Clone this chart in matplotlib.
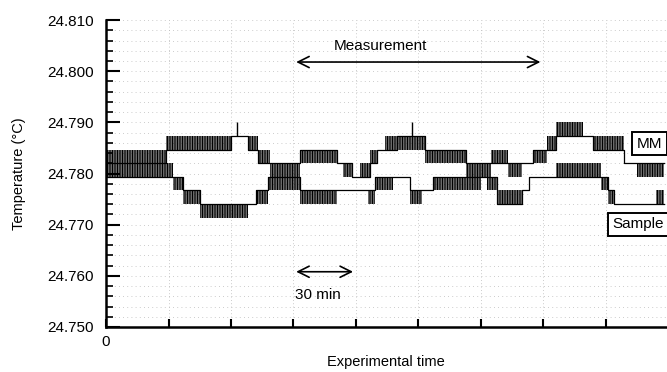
import matplotlib
matplotlib.use("Agg")
import matplotlib.pyplot as plt
from matplotlib.ticker import MultipleLocator, FormatStrFormatter

plt.rcParams['font.family'] = ['Liberation Sans', 'DejaVu Sans']
plt.rcParams['hatch.linewidth'] = 0.9

# quantised temperature levels (deg C)
L0, L1, L2, L3, L4, L5, L6, L7 = 24.7713, 24.7740, 24.7767, 24.7793, 24.7820, 24.7846, 24.7873, 24.7900

# MM trace: segment start times (min), base level, flicker level
mm_t = [0, 29, 60, 68, 73, 79, 93, 111, 114, 118, 122, 127, 130, 134, 140, 153,
        173, 185, 193, 200, 205, 212, 216, 229, 234, 249, 255, 268]
mm_base = [L4, L5, L6, L5, L4, L4, L5, L4, L4, L3, L3, L4, L5, L5, L6, L5,
           L4, L4, L4, L4, L5, L5, L6, L6, L5, L4, L4]
mm_alt = [L5, L6, L6, L6, L5, L3, L4, L4, L3, L3, L4, L5, L5, L6, L5, L4,
          L3, L5, L3, L4, L4, L6, L7, L6, L6, L4, L3]
mm_spike_t = [63, 147]

# Sample trace
s_t = [0, 32, 37, 45, 68, 72, 78, 93, 111, 126, 129, 138, 146, 152, 157, 180,
       183, 188, 200, 203, 216, 238, 241, 244, 264, 268]
s_base = [L3, L3, L2, L1, L1, L2, L3, L2, L2, L2, L3, L3, L2, L2, L3, L3,
          L3, L1, L2, L3, L3, L3, L2, L1, L1]
s_alt = [L4, L2, L1, L0, L1, L1, L2, L1, L2, L1, L2, L3, L1, L2, L2, L3,
         L2, L2, L2, L3, L4, L2, L1, L1, L2]

xticks = [0, 30, 60, 90, 120, 150, 180, 210, 240]
xtick_labels = ['0', '', '', '', '', '', '', '', '']

fig = plt.figure(figsize=(6.67, 3.72), dpi=100)
ax = fig.add_axes([0.159, 0.121, 0.8395, 0.825])

def draw_trace(t, base, alt):
    ax.step(t, base + [base[-1]], where='post', color='black', lw=0.9, zorder=3)
    for i in range(len(base)):
        if alt[i] != base[i]:
            lo, hi = min(base[i], alt[i]), max(base[i], alt[i])
            ax.fill_between([t[i], t[i + 1]], lo, hi, facecolor='none',
                            edgecolor='black', hatch='||||||||||', linewidth=0, zorder=3)

draw_trace(mm_t, mm_base, mm_alt)
draw_trace(s_t, s_base, s_alt)
ax.vlines(mm_spike_t, L6, L7, color='black', lw=1.0, zorder=3)

ax.set_xlim(0, 269)
ax.set_ylim(24.750, 24.810)
ax.yaxis.set_major_locator(MultipleLocator(0.010))
ax.yaxis.set_minor_locator(MultipleLocator(0.002))
ax.yaxis.set_major_formatter(FormatStrFormatter('%.3f'))
ax.set_xticks(xticks)
ax.set_xticklabels(xtick_labels)

ax.tick_params(axis='both', which='major', direction='in', length=10, width=1.5,
               labelsize=11, colors='black')
ax.tick_params(axis='y', which='major', pad=9)
ax.tick_params(axis='y', which='minor', direction='in', length=5, width=1.2)
ax.tick_params(axis='x', which='major', length=6, pad=6)

ax.yaxis.grid(True, which='both', color='#bbbbbb', linestyle=(0, (1, 4)), lw=0.6)
ax.xaxis.grid(True, which='major', color='#bbbbbb', linestyle=(0, (1, 3)), lw=0.6)
ax.set_axisbelow(True)

for s in ['top', 'right']:
    ax.spines[s].set_visible(False)
for s in ['left', 'bottom']:
    ax.spines[s].set_linewidth(1.8)

ax.set_ylabel('Temperature (\u00b0C)', fontsize=10.5, labelpad=15)
ax.set_xlabel('Experimental time', fontsize=10.5, labelpad=4)

# annotations
ax.annotate('', xy=(90, 24.8018), xytext=(210, 24.8018),
            arrowprops=dict(arrowstyle='<->', lw=1.2, mutation_scale=20, color='black'))
ax.text(132, 24.8049, 'Measurement', fontsize=11, ha='center', va='center')
ax.annotate('', xy=(90, 24.7608), xytext=(120, 24.7608),
            arrowprops=dict(arrowstyle='<->', lw=1.2, mutation_scale=20, color='black'))
ax.text(102, 24.7563, '30 min', fontsize=11, ha='center', va='center')

box = dict(boxstyle='square,pad=0.3', facecolor='white', edgecolor='black', lw=1.4)
ax.text(261, 24.7858, 'MM', fontsize=11, ha='center', va='center', bbox=box, zorder=5)
ax.text(255.5, 24.7701, 'Sample', fontsize=11, ha='center', va='center', bbox=box, zorder=5)

fig.savefig('out.png', dpi=100)
